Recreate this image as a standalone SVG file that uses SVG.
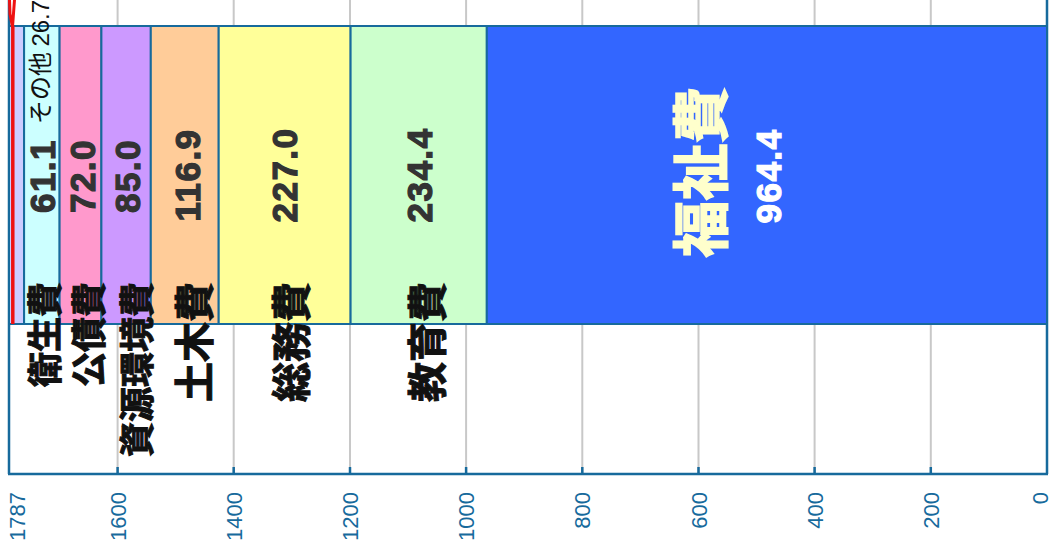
<svg xmlns="http://www.w3.org/2000/svg" width="1050" height="550" viewBox="0 0 1050 550">
<style>
.grid{stroke:#c8c8c8;stroke-width:2}
.tick{stroke:#176a9c;stroke-width:2.5}
.seg{stroke:#176a9c;stroke-width:2}
.ax{font-family:"Liberation Sans",Arial,sans-serif;font-size:22px;fill:#176a9c;text-anchor:end}
.cat{font-family:"Noto Sans CJK JP","Noto Sans",sans-serif;font-weight:bold;fill:#111;stroke:#111;stroke-width:1;text-anchor:end}
.val{font-family:"Liberation Sans",Arial,sans-serif;font-weight:bold;font-size:35px;fill:#333;stroke:#333;stroke-width:1.2;text-anchor:middle;letter-spacing:1.5px}
</style>
<rect width="1050" height="550" fill="#fff"/>
<g id="grid">
<line class="grid" x1="117.6" y1="-5" x2="117.6" y2="474"/>
<line class="grid" x1="233.7" y1="-5" x2="233.7" y2="474"/>
<line class="grid" x1="350" y1="-5" x2="350" y2="474"/>
<line class="grid" x1="466.1" y1="-5" x2="466.1" y2="474"/>
<line class="grid" x1="582.3" y1="-5" x2="582.3" y2="474"/>
<line class="grid" x1="698.5" y1="-5" x2="698.5" y2="474"/>
<line class="grid" x1="814.6" y1="-5" x2="814.6" y2="474"/>
<line class="grid" x1="930.8" y1="-5" x2="930.8" y2="474"/>
</g>
<g id="axis">
<line class="tick" x1="9" y1="-5" x2="9" y2="474"/>
<line class="tick" x1="1047" y1="-5" x2="1047" y2="474"/>
<line class="tick" x1="8" y1="474" x2="1048" y2="474"/>
<line class="tick" x1="117.6" y1="467" x2="117.6" y2="474"/>
<line class="tick" x1="233.7" y1="467" x2="233.7" y2="474"/>
<line class="tick" x1="350" y1="467" x2="350" y2="474"/>
<line class="tick" x1="466.1" y1="467" x2="466.1" y2="474"/>
<line class="tick" x1="582.3" y1="467" x2="582.3" y2="474"/>
<line class="tick" x1="698.5" y1="467" x2="698.5" y2="474"/>
<line class="tick" x1="814.6" y1="467" x2="814.6" y2="474"/>
<line class="tick" x1="930.8" y1="467" x2="930.8" y2="474"/>
<text class="ax" transform="translate(24.7,492) rotate(-90)">1787</text>
<text class="ax" transform="translate(126,492) rotate(-90)">1600</text>
<text class="ax" transform="translate(241.7,492) rotate(-90)">1400</text>
<text class="ax" transform="translate(358,492) rotate(-90)">1200</text>
<text class="ax" transform="translate(474,492) rotate(-90)">1000</text>
<text class="ax" transform="translate(590.3,492) rotate(-90)">800</text>
<text class="ax" transform="translate(706.5,492) rotate(-90)">600</text>
<text class="ax" transform="translate(822.6,492) rotate(-90)">400</text>
<text class="ax" transform="translate(938.8,492) rotate(-90)">200</text>
<text class="ax" transform="translate(1048,492) rotate(-90)">0</text>
</g>
<g id="other">
<rect class="seg" x="9" y="26" width="15.1" height="298" fill="#ccccff"/>
<line x1="12.8" y1="26" x2="12.8" y2="324" stroke="#ee1111" stroke-width="3.5"/>
<polyline points="9.5,0 10,14 12.5,27 14.5,0" fill="none" stroke="#ee1111" stroke-width="3"/>
</g>
<g id="eisei">
<rect class="seg" x="24.1" y="26" width="35.5" height="298" fill="#ccffff"/>
<text class="val" transform="translate(54.5,176) rotate(-90)">61.1</text>
</g>
<g id="kosai">
<rect class="seg" x="59.6" y="26" width="41.8" height="298" fill="#ff99cc"/>
<text class="val" transform="translate(94.5,176) rotate(-90)">72.0</text>
</g>
<g id="shigen">
<rect class="seg" x="101.4" y="26" width="49.4" height="298" fill="#cc99ff"/>
<text class="val" transform="translate(139.5,176) rotate(-90)">85.0</text>
</g>
<g id="doboku">
<rect class="seg" x="150.8" y="26" width="67.9" height="298" fill="#ffcc99"/>
<text class="val" transform="translate(199.5,175) rotate(-90)">116.9</text>
</g>
<g id="somu">
<rect class="seg" x="218.7" y="26" width="131.9" height="298" fill="#ffff99"/>
<text class="val" transform="translate(296.5,175) rotate(-90)">227.0</text>
</g>
<g id="kyoiku">
<rect class="seg" x="350.6" y="26" width="136.2" height="298" fill="#ccffcc"/>
<text class="val" transform="translate(431.5,175) rotate(-90)">234.4</text>
</g>
<g id="fukushi">
<rect class="seg" x="486.8" y="26" width="560.2" height="298" fill="#3366ff"/>
<text transform="translate(722,172) rotate(-90)" style="font-family:'Noto Sans CJK JP',sans-serif;font-weight:bold;font-size:57px;fill:#ffffcc;stroke:#ffffcc;stroke-width:1.5;text-anchor:middle">福祉費</text>
<text class="val" transform="translate(780.5,176) rotate(-90)" style="fill:#fff;stroke:#fff">964.4</text>
</g>
<g id="labels">
<text transform="translate(49,124) rotate(-90)" style="font-family:'Noto Sans CJK JP','Liberation Sans',sans-serif;font-size:24px;fill:#111">その他 <tspan style="font-family:'Liberation Sans',sans-serif">26.7</tspan></text>
<text class="cat" font-size="35" transform="translate(58,282) rotate(-90)">衛生費</text>
<text class="cat" font-size="35" transform="translate(102,282) rotate(-90)">公債費</text>
<text class="cat" font-size="35" transform="translate(150,282) rotate(-90)">資源環境費</text>
<text class="cat" font-size="40" transform="translate(209,282) rotate(-90)">土木費</text>
<text class="cat" font-size="40" transform="translate(306,282) rotate(-90)">総務費</text>
<text class="cat" font-size="40" transform="translate(442,282) rotate(-90)">教育費</text>
</g>
</svg>
